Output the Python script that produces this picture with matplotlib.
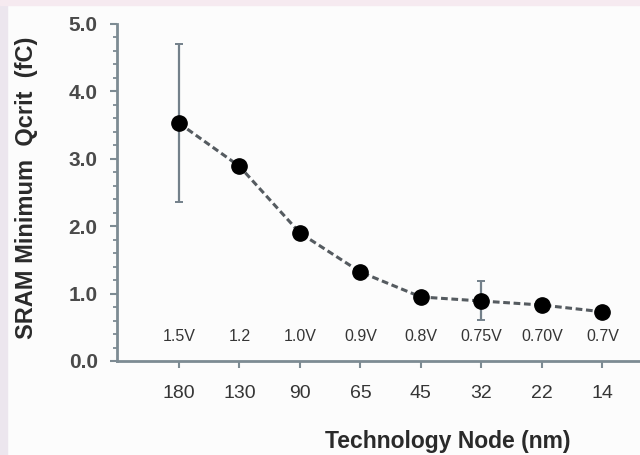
import matplotlib
matplotlib.use("Agg")
import matplotlib.pyplot as plt
from matplotlib.patches import Rectangle
import numpy as np

nodes = ["180", "130", "90", "65", "45", "32", "22", "14"]
voltages = ["1.5V", "1.2", "1.0V", "0.9V", "0.8V", "0.75V", "0.70V", "0.7V"]
qcrit = [3.53, 2.89, 1.90, 1.32, 0.95, 0.89, 0.83, 0.73]
err_upper = [4.70, None, None, None, None, 1.19, None, None]
err_lower = [2.36, None, None, None, None, 0.61, None, None]

plt.rcParams["font.family"] = ["Liberation Sans", "DejaVu Sans"]

fig = plt.figure(figsize=(6.4, 4.55), dpi=100, facecolor="#fcfcfc")
ax = fig.add_axes([0.183, 0.2066, 0.817, 0.7407])
ax.set_facecolor("#fcfcfc")

# soft tinted border along the left and top edges
fig.patches.append(Rectangle((0, 0), 7 / 640, 1, transform=fig.transFigure,
                             color="#ece6ee", zorder=-1))
fig.patches.append(Rectangle((0, 1 - 5 / 455), 1, 5 / 455, transform=fig.transFigure,
                             color="#f6eaf0", zorder=-1))

x = np.arange(len(nodes))
axis_col = "#7d8b93"
text_col = "#353535"

# error bars where spread is known
for xi, y, hi, lo in zip(x, qcrit, err_upper, err_lower):
    if hi is not None:
        ax.errorbar([xi], [y], yerr=[[y - lo], [hi - y]], fmt="none",
                    ecolor="#73808a", elinewidth=1.6, capsize=2.8, capthick=1.4, zorder=2)

ax.plot(x, qcrit, linestyle=(0, (2.2, 1.2)), color="#555b60", linewidth=2.2, zorder=3)
ax.plot(x, qcrit, "o", color="black", markersize=11, zorder=4)

for xi, v in zip(x, voltages):
    ax.text(xi, 0.36, v, ha="center", va="center", fontsize=11.5,
            color=text_col)

ax.set_xlim(-1.02, 7.62)
ax.set_ylim(0, 5.0)
ax.set_xticks(x)
ax.set_xticklabels(nodes, fontsize=14, color=text_col)
ax.set_yticks(np.arange(0, 5.01, 1.0))
ax.set_yticklabels([f"{v:.1f}" for v in np.arange(0, 5.01, 1.0)],
                   fontsize=15, fontweight="bold", color="#4a4a4a")
ax.set_yticks(np.arange(0, 5.01, 0.2), minor=True)

for s in ["top", "right"]:
    ax.spines[s].set_visible(False)
for s in ["left", "bottom"]:
    ax.spines[s].set_color(axis_col)
    ax.spines[s].set_linewidth(2.0)

ax.tick_params(axis="x", which="major", direction="out", length=5, width=1.5,
               color=axis_col, pad=12)
ax.tick_params(axis="y", which="major", direction="out", length=5, width=1.5,
               color=axis_col, pad=9)
ax.tick_params(axis="y", which="minor", direction="out", length=3, width=1.3,
               color=axis_col)

ax.set_xlabel("Technology Node (nm)", fontsize=16.5, fontweight="bold",
              color="#2a2a2a")
ax.xaxis.set_label_coords(0.633, -0.205)
ax.set_ylabel("SRAM Minimum  Qcrit  (fC)", fontsize=17, fontweight="bold",
              color="#2a2a2a")
ax.yaxis.set_label_coords(-0.152, 0.515)

fig.savefig("out.png", dpi=100, facecolor=fig.get_facecolor())
